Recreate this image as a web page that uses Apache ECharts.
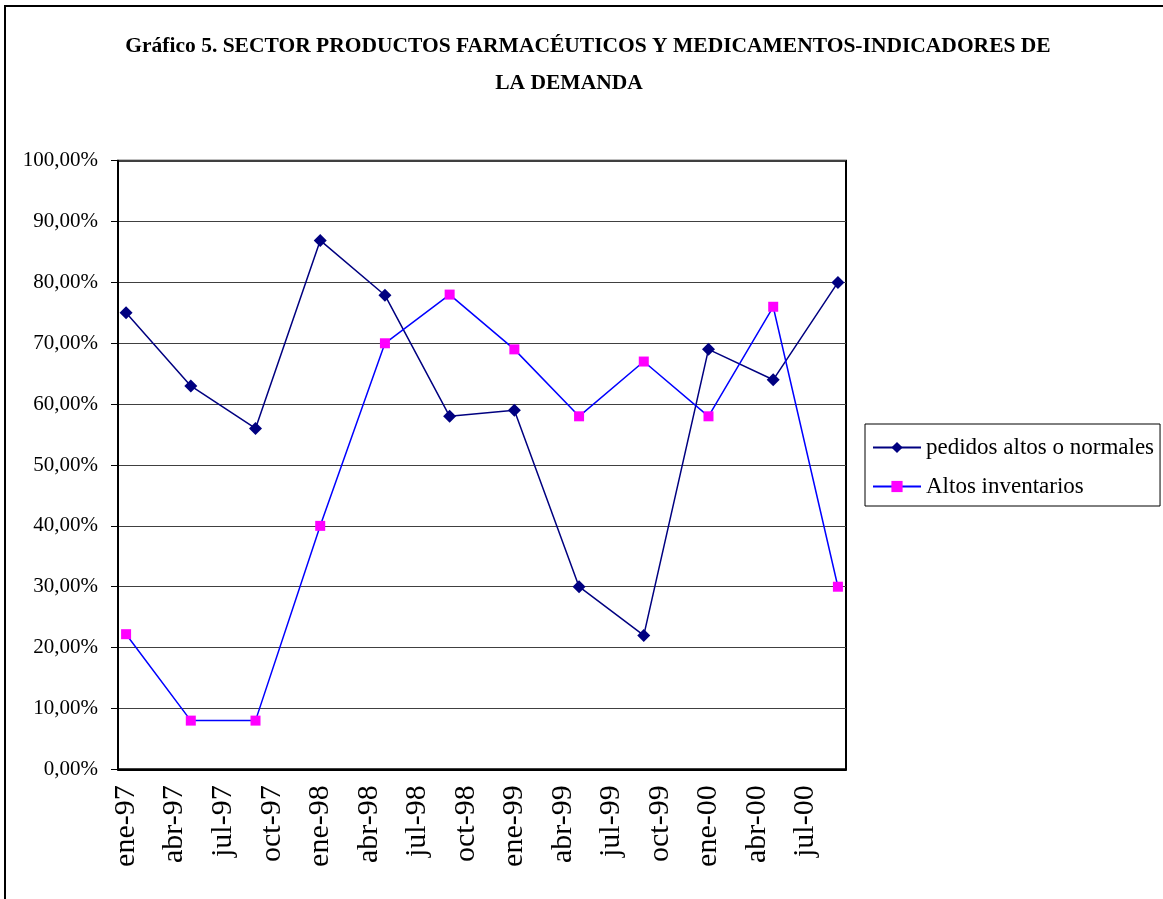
<!DOCTYPE html>
<html><head><meta charset="utf-8">
<script src="https://cdn.jsdelivr.net/npm/echarts@6/dist/echarts.min.js"></script>
<style>html,body{margin:0;padding:0;background:#fff}#c{width:1163px;height:899px}</style>
</head><body><div id="c"></div>
<script>
const titleLines = ['Gráfico 5. SECTOR PRODUCTOS FARMACÉUTICOS Y MEDICAMENTOS-INDICADORES DE', 'LA DEMANDA'];
const monthNames = ['ene','feb','mar','abr','may','jun','jul','ago','sep','oct','nov','dic'];
const yearNames = ['97','98','99','00'];
const seriesNames = ['pedidos altos o normales', 'Altos inventarios'];
const dates = ['ene-97','may-97','sep-97','ene-98','may-98','sep-98','ene-99','may-99','sep-99','ene-00','may-00','sep-00'];
const pedidos = [75, 63, 56, 86.9, 77.9, 58, 59, 30, 22, 69, 64, 80];
const inventarios = [22.2, 8, 8, 40, 70, 78, 69, 58, 67, 58, 76, 30];

const categories = [];
yearNames.forEach(y => monthNames.forEach(m => categories.push(m + '-' + y)));
categories.length = 45; // ene-97 .. sep-00

const FONT = 'Liberation Serif, Times New Roman, serif';
const titleStyle = {fontFamily: FONT, fontWeight: 'bold', fontSize: 21.5, color: '#000'};
const chart = echarts.init(document.getElementById('c'), null, {renderer: 'canvas'});
chart.setOption({
  animation: false,
  backgroundColor: '#fff',
  title: [
    {text: titleLines[0], left: 588, top: 35, textAlign: 'center', padding: 0, textStyle: titleStyle},
    {text: titleLines[1], left: 569, top: 72, textAlign: 'center', padding: 0, textStyle: titleStyle}
  ],
  graphic: [{
    type: 'rect', silent: true,
    shape: {x: 5, y: 6, width: 1400, height: 1200},
    style: {fill: null, stroke: '#000', lineWidth: 2}
  }],
  legend: {
    orient: 'vertical', left: 865, top: 424,
    borderColor: '#000', borderWidth: 1,
    padding: [12, 6, 8, 7],
    itemWidth: 48, itemHeight: 14, itemGap: 16,
    textStyle: {fontFamily: FONT, fontSize: 23, color: '#000'},
    data: seriesNames
  },
  grid: {left: 118, right: 317, top: 160.7, bottom: 129.7, show: true, borderColor: '#000', borderWidth: 2, containLabel: false},
  xAxis: {
    type: 'category', data: categories, boundaryGap: true,
    axisLine: {lineStyle: {color: '#000', width: 2}},
    axisTick: {interval: 2, length: 6, lineStyle: {color: '#000', width: 1}},
    axisLabel: {interval: 2, rotate: 90, fontFamily: FONT, fontSize: 30, color: '#000', margin: 16},
    splitLine: {show: false}
  },
  yAxis: {
    type: 'value', min: 0, max: 100, interval: 10,
    axisLine: {show: true, lineStyle: {color: '#000', width: 2}},
    axisTick: {show: true, length: 7, lineStyle: {color: '#000', width: 1}},
    axisLabel: {fontFamily: FONT, fontSize: 21, color: '#000', margin: 20,
      formatter: v => v.toFixed(2).replace('.', ',') + '%'},
    splitLine: {show: true, lineStyle: {color: '#404040', width: 1}}
  },
  series: [
    {
      name: seriesNames[0], type: 'line',
      data: dates.map((d, i) => [d, pedidos[i]]),
      showAllSymbol: true,
      symbol: 'diamond', symbolSize: 13,
      itemStyle: {color: '#000080'},
      lineStyle: {color: '#000080', width: 1.5}
    },
    {
      name: seriesNames[1], type: 'line',
      data: dates.map((d, i) => [d, inventarios[i]]),
      showAllSymbol: true,
      symbol: 'rect', symbolSize: 10,
      itemStyle: {color: '#FF00FF'},
      lineStyle: {color: '#0000FF', width: 1.5}
    }
  ]
});
</script></body></html>
